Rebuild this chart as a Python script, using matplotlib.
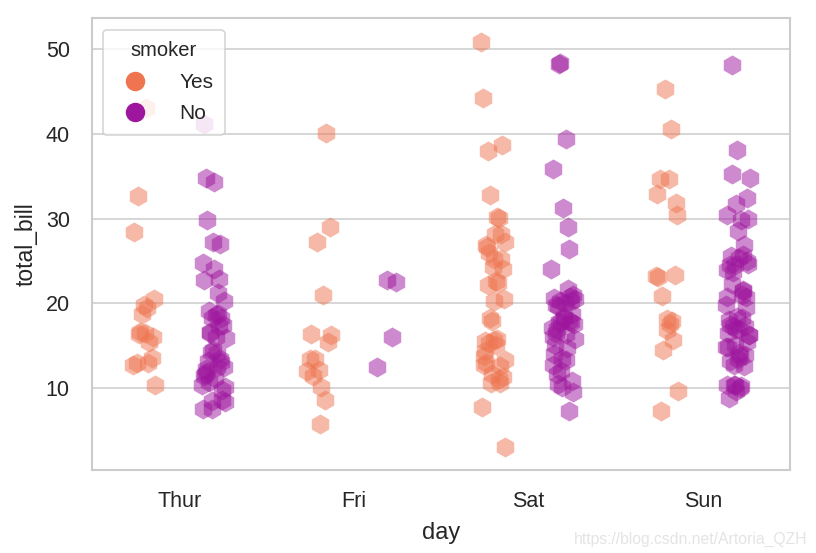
import numpy as np
import matplotlib
matplotlib.use("Agg")
import matplotlib.pyplot as plt
from matplotlib.lines import Line2D

days = ["Thur", "Fri", "Sat", "Sun"]
smoker_levels = ["Yes", "No"]

thur_yes = [19.44, 32.68, 16.00, 19.81, 28.44, 15.48, 16.58, 10.34, 43.11, 13.00,
            13.51, 18.71, 12.74, 13.00, 16.40, 20.53, 16.47]
thur_no = [27.20, 22.76, 17.29, 16.66, 10.07, 15.98, 34.83, 13.03, 18.28, 24.71,
           21.16, 10.65, 12.43, 24.08, 11.69, 13.42, 14.26, 15.95, 12.48, 29.80,
           8.52, 14.52, 11.38, 22.82, 19.08, 20.27, 11.17, 12.26, 18.26, 8.51,
           10.33, 14.15, 13.16, 17.47, 34.30, 41.19, 27.05, 16.43, 8.35, 18.64,
           11.87, 9.78, 7.51, 7.56, 18.78]
fri_yes = [28.97, 5.75, 16.32, 40.17, 27.28, 12.03, 21.01, 11.35, 15.38, 12.16,
           13.42, 8.58, 13.42, 16.27, 10.09]
fri_no = [22.49, 22.75, 12.46, 15.98]
sat_yes = [38.01, 11.24, 20.29, 13.81, 11.02, 18.29, 3.07, 15.01, 26.86, 25.28,
           17.92, 44.30, 22.42, 15.36, 20.49, 25.21, 14.31, 10.59, 10.63, 50.81,
           15.81, 26.59, 38.73, 24.27, 12.76, 30.06, 25.89, 13.27, 28.17, 12.90,
           28.15, 11.59, 7.74, 30.14, 22.12, 24.01, 15.69, 15.53, 12.60, 32.83,
           27.18, 22.67]
sat_no = [20.65, 17.92, 20.29, 15.77, 39.42, 19.82, 17.81, 13.37, 12.69, 21.70,
          19.65, 9.55, 18.35, 15.06, 20.69, 17.78, 24.06, 16.31, 16.93, 18.69,
          31.27, 16.04, 26.41, 48.27, 17.59, 20.08, 16.45, 20.23, 12.02, 17.07,
          14.73, 10.51, 20.92, 18.24, 14.00, 7.25, 48.33, 20.45, 13.28, 11.61,
          10.77, 10.07, 35.83, 29.03, 17.82]
sun_yes = [17.51, 7.25, 31.85, 16.82, 32.90, 17.89, 14.48, 9.60, 34.63, 34.65,
           23.33, 45.35, 23.17, 40.55, 20.90, 30.46, 18.15, 23.10, 15.69]
sun_no = [16.99, 10.34, 21.01, 23.68, 24.59, 25.29, 8.77, 26.88, 15.04, 14.78,
          10.27, 35.26, 15.42, 18.43, 14.83, 21.58, 10.33, 16.29, 16.97, 17.46,
          13.94, 9.68, 30.40, 18.29, 22.23, 32.40, 28.55, 18.04, 12.54, 10.29,
          34.81, 9.94, 25.56, 19.49, 38.07, 23.95, 25.71, 17.31, 29.93, 14.07,
          13.13, 17.26, 24.55, 19.77, 29.85, 48.17, 25.00, 13.39, 16.49, 21.50,
          12.66, 16.21, 13.81, 24.52, 20.76, 31.71, 20.69]

groups = {
    ("Thur", "Yes"): thur_yes, ("Thur", "No"): thur_no,
    ("Fri", "Yes"): fri_yes, ("Fri", "No"): fri_no,
    ("Sat", "Yes"): sat_yes, ("Sat", "No"): sat_no,
    ("Sun", "Yes"): sun_yes, ("Sun", "No"): sun_no,
}

colors = {"Yes": "#ee7550", "No": "#9e169e"}
text_color = "#262626"

plt.rcParams["font.family"] = ["Liberation Sans", "DejaVu Sans"]

fig = plt.figure(figsize=(8.16, 5.53), dpi=100)
ax = fig.add_axes([92 / 816, 1 - 470 / 553, 698 / 816, 452 / 553])

dodge = 0.2
jit = 0.07
for i, d in enumerate(days):
    for j, s in enumerate(smoker_levels):
        vals = np.asarray(groups[(d, s)])
        n = len(vals)
        # deterministic low-discrepancy jitter (position only)
        k = np.arange(n) + 1 + 7 * i + 3 * j
        offs = ((k * 0.6180339887) % 1.0 - 0.5) * 2 * jit
        xpos = i + (-dodge if s == "Yes" else dodge) + offs
        ax.scatter(xpos, vals, s=210, marker="h", color=colors[s], alpha=0.5,
                   linewidths=0, zorder=3)

ax.set_xlim(-0.5, 3.5)
ax.set_ylim(0.3, 53.7)
ax.set_xticks(range(len(days)))
ax.set_xticklabels(days)
ax.set_yticks([10, 20, 30, 40, 50])
ax.grid(axis="y", color="#cccccc", linewidth=1.1, zorder=0)
ax.set_axisbelow(True)
for sp in ax.spines.values():
    sp.set_color("#cccccc")
    sp.set_linewidth(1.5)
ax.tick_params(axis="both", length=0, labelsize=15.5, colors=text_color)
ax.tick_params(axis="x", pad=15)
ax.tick_params(axis="y", pad=16)
ax.set_xlabel("day", fontsize=17, color=text_color, labelpad=7)
ax.set_ylabel("total_bill", fontsize=16.5, color=text_color, labelpad=6)

handles = [Line2D([], [], marker="o", linestyle="", markersize=13,
                  markerfacecolor=colors[s], markeredgecolor=colors[s], label=s)
           for s in smoker_levels]
leg = ax.legend(handles=handles, title="smoker", loc="upper left",
                fontsize=15, title_fontsize=14.5, frameon=True,
                borderpad=0.55, handletextpad=1.1, labelspacing=0.6,
                borderaxespad=0, bbox_to_anchor=(11 / 698, 1 - 12 / 452))
leg.get_frame().set_edgecolor("#cccccc")
leg.get_frame().set_linewidth(1.2)
for t in leg.get_texts():
    t.set_color(text_color)
leg.get_title().set_color(text_color)

fig.text(807 / 816, 1 - 544 / 553, "https://blog.csdn.net/Artoria_QZH", ha="right",
         va="baseline", fontsize=11.3, color="#e4e4e4")

fig.savefig("out.png", dpi=100)
